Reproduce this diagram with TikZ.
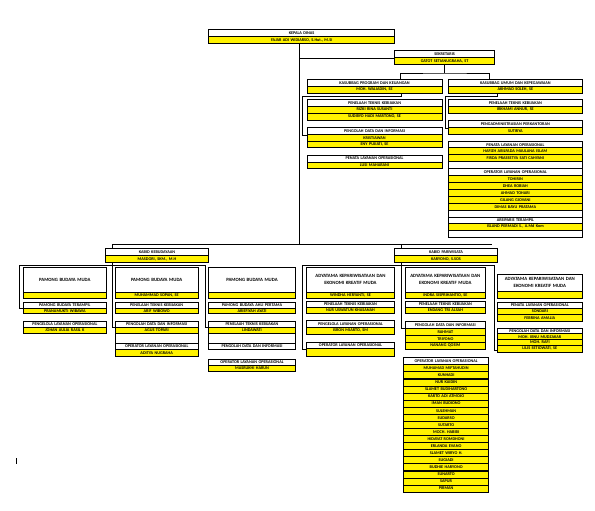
\documentclass[tikz,border=0pt]{standalone}
\usepackage{fontspec}
\setmainfont{Carlito}
\usepackage {tikz}
\usetikzlibrary{calc}
\newcommand{\cellfont}{\fontsize{4.2}{4.8}\selectfont\bfseries}
\tikzset{
    cell/.style = {draw, line width=0.7pt, inner sep=0pt, anchor=north west, align=center, font=\cellfont},
    head/.style = {cell, fill=white},
    staff/.style = {cell, fill=yellow},
    bighead/.style = {head, font=\fontsize{4.8}{7}\selectfont\bfseries},
    link/.style = {line width=0.7pt}}
% \orgrow{name}{style}{x}{y}{width}{height}{text}
\newcommand{\orgrow}[7]{\node[#2, minimum width=#5pt, minimum height=#6pt, text width=#5pt] (#1) at (#3,#4) {#7};}
\begin{document}
\begin{tikzpicture}[x=1pt,y=-1pt]
        \path[fill=white,use as bounding box] (0,0) rectangle (595,511);
        % kepala, sekretaris, kasubbag
        \orgrow{kd}{head}{208.3}{29.3}{186}{6.7}{KEPALA DINAS}
        \orgrow{kdn}{staff}{208.3}{36}{186}{7.3}{FAJAR ADI WIDIARSO, S.Hut., M.Si}
        \orgrow{sek}{head}{394.3}{50}{100}{7.3}{SEKRETARIS}
        \orgrow{sekn}{staff}{394.3}{57.3}{100}{6.7}{GATOT SETIANUGRAHA, ST}
        \orgrow{kp}{head}{306.7}{79.3}{135}{6.7}{KASUBBAG PROGRAM DAN KEUANGAN}
        \orgrow{kpn}{staff}{306.7}{86}{135}{6.7}{MOH. WALIADIN, SE}
        \orgrow{ku}{head}{448.3}{79.3}{133.4}{6.7}{KASUBBAG UMUM DAN KEPEGAWAIAN}
        \orgrow{kun}{staff}{448.3}{86}{133.4}{6.7}{AKHMAD SOLEH, SE}
        % program dan keuangan
        \orgrow{ptk}{head}{306.7}{99.3}{135}{6.4}{PENELAAH TEKNIS KEBIJAKAN}
        \orgrow{ptk1}{staff}{306.7}{105.7}{135}{7}{RIZKI RINA SUSANTI}
        \orgrow{ptk2}{staff}{306.7}{112.7}{135}{7}{SUDIBYO HADI MARTONO, SE}
        \orgrow{pdi}{head}{306.7}{127.3}{135}{7}{PENGOLAH DATA DAN INFORMASI}
        \orgrow{pdi1}{staff}{306.7}{134.3}{135}{6.5}{KRISTIAWAN}
        \orgrow{pdi2}{staff}{306.7}{140.8}{135}{6.5}{ENY PUJIATI, SE}
        \orgrow{plo}{head}{306.7}{155}{135}{6.5}{PENATA LAYANAN OPERASIONAL}
        \orgrow{plo1}{staff}{306.7}{161.5}{135}{6.5}{LUSI MAHARANI}
        % umum dan kepegawaian
        \orgrow{ptu}{head}{448.3}{99.3}{133.4}{6.6}{PENELAAH TEKNIS KEBIJAKAN}
        \orgrow{ptu1}{staff}{448.3}{105.9}{133.4}{7.2}{IRKHAMI ANNUR, SE}
        \orgrow{pap}{head}{448.3}{120.3}{133.4}{7}{PENGADMINISTRASIAN PERKANTORAN}
        \orgrow{pap1}{staff}{448.3}{127.3}{133.4}{6.7}{SUTIRYA}
        \orgrow{g0}{head}{448.3}{141.3}{133.4}{6}{PENATA LAYANAN OPERASIONAL}
        \orgrow{g1}{staff}{448.3}{147.3}{133.4}{7}{HAFIZH ABILFADA MAULANA ISLAM}
        \orgrow{g2}{staff}{448.3}{154.3}{133.4}{7}{FIRDA PRASSETYA SATI CAHYANI}
        \orgrow{g3}{head}{448.3}{161.3}{133.4}{7}{}
        \orgrow{g4}{head}{448.3}{168.3}{133.4}{7}{OPERATOR LAYANAN OPERASIONAL}
        \orgrow{g5}{staff}{448.3}{175.3}{133.4}{7}{TOHIRIN}
        \orgrow{g6}{staff}{448.3}{182.3}{133.4}{7}{DHEA ROBIAH}
        \orgrow{g7}{staff}{448.3}{189.3}{133.4}{7}{AHMAD TOHARI}
        \orgrow{g8}{staff}{448.3}{196.3}{133.4}{7}{GILANG GIOVANI}
        \orgrow{g9}{staff}{448.3}{203.3}{133.4}{7}{DIMAS BAYU PRATAMA}
        \orgrow{g10}{head}{448.3}{210.3}{133.4}{6.4}{}
        \orgrow{g11}{head}{448.3}{216.7}{133.4}{6}{ARSIPARIS TERAMPIL}
        \orgrow{g12}{staff}{448.3}{222.7}{133.4}{7}{ISLAND PERMADI S., A.Md Kom}
        \orgrow{g13}{head}{448.3}{229.7}{133.4}{6.8}{}
        % kabid
        \orgrow{kb}{head}{105}{248.3}{103.3}{6.7}{KABID KEBUDAYAAN}
        \orgrow{kbn}{staff}{105}{255}{103.3}{7.3}{MASDORI, SKM., M.H}
        \orgrow{kw}{head}{394}{248.3}{103.3}{6.7}{KABID PARIWISATA}
        \orgrow{kwn}{staff}{394}{255}{103.3}{7.3}{KARYONO, S.SOS}
        % kebudayaan
        \orgrow{a1}{bighead}{23.3}{267.3}{82.4}{24.4}{PAMONG BUDAYA MUDA}
        \orgrow{a1n}{staff}{23.3}{291.7}{82.4}{6}{}
        \orgrow{a2}{head}{23.3}{301.7}{82.4}{6}{PAMONG BUDAYA TERAMPIL}
        \orgrow{a2n}{staff}{23.3}{307.7}{82.4}{5.6}{PRANAMUKTI WIBAWA}
        \orgrow{a3}{head}{23.3}{321}{82.4}{5.7}{PENGELOLA LAYANAN OPERASIONAL}
        \orgrow{a3n}{staff}{23.3}{326.7}{82.4}{6}{JOHAN AULIA RASIL K}
        \orgrow{b1}{bighead}{115}{267.3}{82.7}{24.4}{PAMONG BUDAYA MUDA}
        \orgrow{b1n}{staff}{115}{291.7}{82.7}{6}{MUHAMMAD SOPAN, SE}
        \orgrow{b2}{head}{115}{301.7}{82.7}{6}{PENELAAH TEKNIS KEBIJAKAN}
        \orgrow{b2n}{staff}{115}{307.7}{82.7}{5.6}{ARIF WIBOWO}
        \orgrow{b3}{head}{115}{321}{82.7}{6}{PENGOLAH DATA DAN INFORMASI}
        \orgrow{b3n}{staff}{115}{327}{82.7}{6.3}{AGUS TOPARI}
        \orgrow{b3x}{head}{115}{333.3}{82.7}{9.4}{}
        \orgrow{b4}{head}{115}{342.7}{82.7}{6.6}{OPERATOR LAYANAN OPERASIONAL}
        \orgrow{b4n}{staff}{115}{349.3}{82.7}{6.7}{ADITYA NUGRAHA}
        \orgrow{c1}{bighead}{208.3}{267.3}{86.7}{24.4}{PAMONG BUDAYA MUDA}
        \orgrow{c1n}{staff}{208.3}{291.7}{86.7}{6}{}
        \orgrow{c2}{head}{208.3}{301.7}{86.7}{6}{PAMONG BUDAYA AHLI PERTAMA}
        \orgrow{c2n}{staff}{208.3}{307.7}{86.7}{5.6}{ARIEFIYAH AYATI}
        \orgrow{c3}{head}{208.3}{321}{86.7}{6}{PENELAAH TEKNIS KEBIJAKAN}
        \orgrow{c3n}{staff}{208.3}{327}{86.7}{6.3}{LINDAWATI}
        \orgrow{c3x}{head}{208.3}{333.3}{86.7}{9.4}{}
        \orgrow{c4}{head}{208.3}{342.7}{86.7}{6.6}{PENGOLAH DATA DAN INFORMASI}
        \orgrow{c5}{head}{208.3}{359}{86.7}{6}{OPERATOR LAYANAN OPERASIONAL}
        \orgrow{c5n}{staff}{208.3}{365}{86.7}{6}{MASRUKHI HARUN}
        % pariwisata
        \orgrow{d1}{bighead}{306.3}{266.7}{87.7}{25}{ADYATAMA KEPARIWISATAAN DAN\\EKONOMI KREATIF MUDA}
        \orgrow{d1n}{staff}{306.3}{291.7}{87.7}{6}{WINDHA HERYANTI, SE}
        \orgrow{d2}{head}{306.3}{300.7}{87.7}{6}{PENELAAH TEKNIS KEBIJAKAN}
        \orgrow{d2n}{staff}{306.3}{306.7}{87.7}{6.6}{NUR USWATUN KHASANAH}
        \orgrow{d3}{head}{306.3}{320}{87.7}{6.7}{PENGELOLA LAYANAN OPERASIONAL}
        \orgrow{d3n}{staff}{306.3}{326.7}{87.7}{7.3}{ISRON MIARTO, SM}
        \orgrow{d4}{head}{306.3}{341.7}{87.7}{6.6}{OPERATOR LAYANAN OPERASIONAL}
        \orgrow{d4n}{staff}{306.3}{348.3}{87.7}{7.7}{}
        \orgrow{e1}{bighead}{405}{266.7}{80}{25}{ADYATAMA KEPARIWISATAAN DAN\\EKONOMI KREATIF MUDA}
        \orgrow{e1n}{staff}{405}{291.7}{80}{6}{INDRA SISPRIHANTIO, SE}
        \orgrow{e2}{head}{405}{300.7}{80}{6}{PENELAAH TEKNIS KEBIJAKAN}
        \orgrow{e2n}{staff}{405}{306.7}{80}{6.6}{ENDANG TRI ALSAH}
        \orgrow{e3}{head}{405}{321}{80}{6.7}{PENGOLAH DATA DAN INFORMASI}
        \orgrow{e3a}{staff}{405}{327.7}{80}{7.3}{RAHMAT}
        \orgrow{e3b}{staff}{405}{335}{80}{6.7}{TRIYONO}
        \orgrow{e3c}{staff}{405}{341.7}{80}{7.6}{NANANG QOSIM}
        \orgrow{e4}{head}{403.3}{357.3}{85}{7}{OPERATOR LAYANAN OPERASIONAL}
        \orgrow{o1}{staff}{403.3}{364.3}{85}{7.08}{MUHAMAD MIFTAHUDIN}
        \orgrow{o2}{staff}{403.3}{371.4}{85}{7.08}{KUNHADI}
        \orgrow{o3}{staff}{403.3}{378.5}{85}{7.08}{NUR KAIDIN}
        \orgrow{o4}{staff}{403.3}{385.5}{85}{7.08}{SLAMET BUDIHARTONO}
        \orgrow{o5}{staff}{403.3}{392.6}{85}{7.08}{KARTO ADI ATMOJO}
        \orgrow{o6}{staff}{403.3}{399.7}{85}{7.08}{IMAN BUDIONO}
        \orgrow{o7}{staff}{403.3}{406.8}{85}{7.08}{SULEHMAN}
        \orgrow{o8}{staff}{403.3}{413.9}{85}{7.08}{SUDARSO}
        \orgrow{o9}{staff}{403.3}{420.9}{85}{7.08}{SUTARTO}
        \orgrow{o10}{staff}{403.3}{428}{85}{7.08}{MOCH. HABIBI}
        \orgrow{o11}{staff}{403.3}{435.1}{85}{7.08}{HIDAYAT ROMDHONI}
        \orgrow{o12}{staff}{403.3}{442.2}{85}{7.08}{ERLANDA EVANO}
        \orgrow{o13}{staff}{403.3}{449.3}{85}{7.08}{SLAMET WIRYO H.}
        \orgrow{o14}{staff}{403.3}{456.3}{85}{7.08}{SUGIADI}
        \orgrow{o15}{staff}{403.3}{463.4}{85}{7.08}{BUDHIE HARYONO}
        \orgrow{o16}{staff}{403.3}{470.5}{85}{7.08}{SUNARTO}
        \orgrow{o17}{staff}{403.3}{477.6}{85}{7.08}{SAPUR}
        \orgrow{o18}{staff}{403.3}{484.7}{85}{7.08}{PIRMAN}
        \orgrow{f1}{bighead}{497.3}{274}{84.4}{17}{ADYATAMA KEPARIWISATAAN DAN\\EKONOMI KREATIF MUDA}
        \orgrow{f1n}{staff}{497.3}{291}{84.4}{6.7}{}
        \orgrow{f2}{head}{497.3}{301.7}{84.4}{6}{PENATA LAYANAN OPERASIONAL}
        \orgrow{f2a}{staff}{497.3}{307.7}{84.4}{6.3}{SONDARI}
        \orgrow{f2b}{staff}{497.3}{314}{84.4}{7}{FEBRINA AMALIA}
        \orgrow{f3}{head}{497.3}{328.3}{84.4}{5}{PENGOLAH DATA DAN INFORMASI}
        \orgrow{f3a}{staff}{497.3}{333.3}{84.4}{6}{MOH. IBNU MUDZAKAR}
        \orgrow{f3b}{staff}{497.3}{339.3}{84.4}{5.7}{MOH. RAFI}
        \orgrow{f3c}{staff}{497.3}{345}{84.4}{6.7}{LILIS SETIOWATI, SE}
        % connectors
        \coordinate (sp) at ($(kdn.south)+(-2,0)$);
        \coordinate (kbl) at (112.5,244);
        \coordinate (kbr) at (491.7,244);
        \coordinate (kwj) at (401.7,244);
        \draw[link] (sp) -- (sp |- kbl);
        \draw[link] (kbl) -- (kbr);
        \draw[link] (sp |- sek.south) -- (sek.south west);
        \draw[link] (sekn.south) -- ++(0,8.3) coordinate (sj);
        \draw[link] ($(kp.north west)+(93.3,0)$) |- (sj) -| ($(ku.north west)+(40.7,0)$);
        \draw[link] ($(kpn.south west)+(94.3,0)$) -- ++(0,2.6) -| ($(pdi.south west)+(-4.4,0)$) -- (pdi.south west);
        \draw[link] ($(kun.south west)+(49,0)$) -- ++(0,3.3) -| ($(pap.south west)+(-2.6,0)$) -- (pap.south west);
        \draw[link] (kbl) -- (kbl |- kb.north);
        \draw[link] (kwj) -- (kwj |- kw.north);
        \coordinate (kbj) at ($(kbn.south -| kbl)+(0,2.2)$);
        \draw[link] (kbn.south -| kbl) -- (b3.south west -| kbl) -- (b3.south west);
        \draw[link] (kbj) -| ($(a2.south west)+(-4.3,0)$) -- (a2.south west);
        \draw[link] (kbj) -| ($(c3.south west)+(-2.6,0)$) -- (c3.south west);
        \coordinate (kwb) at ($(kwn.south -| kwj)+(0,2.2)$);
        \draw[link] (kwn.south -| kwj) -- (e3.south west -| kwj) -- (e3.south west);
        \draw[link] (kwb) -| ($(d4.south west)+(-4.3,0)$) -- (d4.south west);
        \draw[link] (kwb) -| ($(f3c.south west)+(-3.3,-2.4)$) -- ($(f3c.south west)+(0,-2.4)$);
        \coordinate (m1) at (16,458);
        \draw[link] (m1) -- ++(0,6);
\end{tikzpicture}
\end{document}
